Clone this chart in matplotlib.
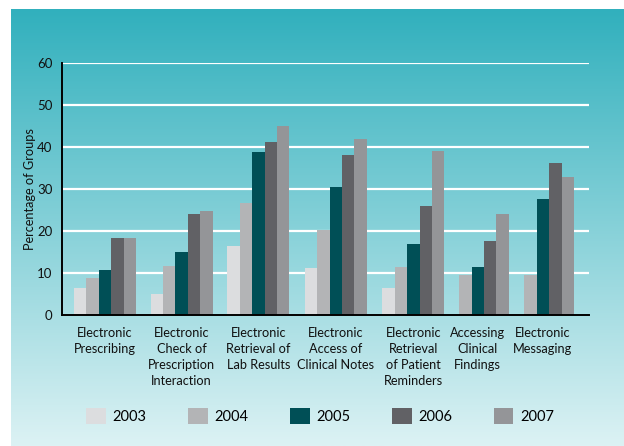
import numpy as np
import matplotlib
matplotlib.use('Agg')
import matplotlib.pyplot as plt
from matplotlib.colors import LinearSegmentedColormap
from matplotlib.patches import Patch

plt.rcParams['font.family'] = ['Lato', 'DejaVu Sans']

# Data
categories = ['Electronic\nPrescribing',
              'Electronic\nCheck of\nPrescription\nInteraction',
              'Electronic\nRetrieval of\nLab Results',
              'Electronic\nAccess of\nClinical Notes',
              'Electronic\nRetrieval\nof Patient\nReminders',
              'Accessing\nClinical\nFindings',
              'Electronic\nMessaging']
years = ['2003', '2004', '2005', '2006', '2007']
v2003 = [6.4, 5.2, 16.6, 11.2, 6.4, 0, 0]
v2004 = [8.8, 11.7, 26.8, 20.4, 11.6, 9.5, 9.5]
v2005 = [10.7, 15.0, 38.7, 30.6, 16.9, 11.6, 27.6]
v2006 = [18.5, 24.0, 41.3, 38.0, 26.1, 17.6, 36.3]
v2007 = [18.5, 24.9, 45.1, 41.8, 39.0, 24.2, 32.8]
yticks = [0, 10, 20, 30, 40, 50, 60]

# layout: group centres (the last two groups sit closer together in the original)
group_x = np.array([0, 1, 2, 3.01, 4.02, 4.86, 5.71])
bar_w = 0.162
colors = ['#dcdddf', '#b3b4b6', '#004f56', '#616165', '#949598']

fig = plt.figure(figsize=(6.24, 4.46), dpi=100)
fig.patch.set_facecolor('white')

# gradient panel behind everything
bg = fig.add_axes([11 / 624, 0, 1 - 11 / 624, 437 / 446], zorder=0)
cmap = LinearSegmentedColormap.from_list('bg', ['#31b0bd', '#dcf2f4'])
bg.imshow(np.linspace(0, 1, 256).reshape(-1, 1), aspect='auto', cmap=cmap,
          extent=[0, 1, 0, 1])
bg.axis('off')

ax = fig.add_axes([62 / 624, 130.6 / 446, (589 - 62) / 624, 252.6 / 446], zorder=1)
ax.patch.set_alpha(0)

series = [v2003, v2004, v2005, v2006, v2007]
for i, (vals, c) in enumerate(zip(series, colors)):
    ax.bar(group_x + (i - 2) * bar_w, vals, width=bar_w, color=c, zorder=3,
           label=years[i])

ax.set_ylim(0, 60)
ax.set_xlim(-0.56, 6.31)
ax.set_yticks(yticks)
ax.set_yticklabels([str(t) for t in yticks], fontsize=9.5, color='#111111')
for t in yticks[1:]:
    ax.axhline(t, color='white', lw=1.6, zorder=1)
ax.tick_params(axis='y', length=0, pad=7)
ax.tick_params(axis='x', length=0, pad=8)
ax.set_xticks(group_x)
ax.set_xticklabels(categories, fontsize=9.2, color='#111111', linespacing=1.4,
                   va='top')
for s in ['top', 'right']:
    ax.spines[s].set_visible(False)
for s in ['left', 'bottom']:
    ax.spines[s].set_color('black')
    ax.spines[s].set_linewidth(1.4)
    ax.spines[s].set_zorder(4)

ax.set_ylabel('Percentage of Groups', fontsize=9.2, color='#111111', labelpad=1)

handles = [Patch(facecolor=c, edgecolor='none') for c in colors]
fig.legend(handles, years, loc='center', bbox_to_anchor=(0.513, 1 - 416 / 446),
           ncol=5, frameon=False, fontsize=10.5, handlelength=1.35,
           handleheight=1.35, handletextpad=0.45, columnspacing=2.85)

fig.savefig('out.png', dpi=100)
